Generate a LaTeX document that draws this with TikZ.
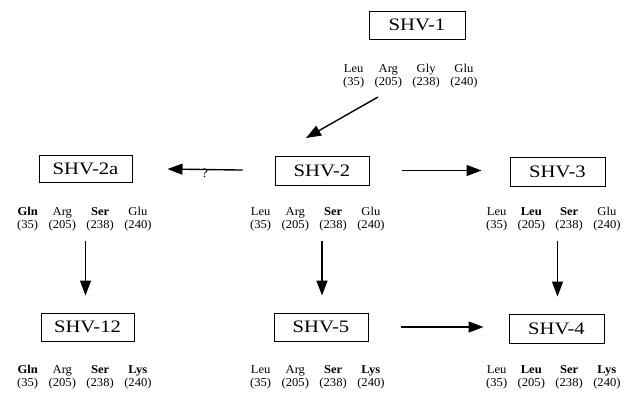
\documentclass[tikz,border=0pt]{standalone}
\usepackage{fontspec}
\setmainfont{Liberation Serif}
\newfontfamily\boxfont[FakeStretch=1.18]{Liberation Serif}
\newfontfamily\labfont[FakeStretch=1.05]{Liberation Serif}
\usetikzlibrary{arrows.meta}
\tikzset{
  shvbox/.style={draw, line width=1pt, inner sep=0pt, font=\boxfont\fontsize{17.5}{19}\selectfont},
  labgrp/.style={inner sep=0pt, anchor=north west, font=\labfont\fontsize{12}{13.5}\selectfont},
  conn/.style={line width=1.4pt, -{Triangle[length=15pt,width=11pt]}},
}
\newcommand{\grptab}[8]{\begin{tabular}{@{}c@{\hspace{10.5pt}}c@{\hspace{10.5pt}}c@{\hspace{10.5pt}}c@{}}#1&#2&#3&#4\\#5&#6&#7&#8\end{tabular}}
\begin{document}
\begin{tikzpicture}[x=1pt,y=-1pt]
\useasboundingbox (0,0) rectangle (642,392);
% boxes
\node[shvbox, minimum width=96pt, minimum height=28pt] (shv1) at (417,25) {SHV-1};
\node[shvbox, minimum width=93pt, minimum height=27pt] (shv2a) at (85.5,168.5) {SHV-2a};
\node[shvbox, minimum width=94pt, minimum height=29pt] (shv2) at (322,170.5) {SHV-2};
\node[shvbox, minimum width=95pt, minimum height=29pt] (shv3) at (557.5,171.5) {SHV-3};
\node[shvbox, minimum width=93pt, minimum height=28pt] (shv12) at (87.5,327) {SHV-12};
\node[shvbox, minimum width=94pt, minimum height=28pt] (shv5) at (321,327) {SHV-5};
\node[shvbox, minimum width=95pt, minimum height=29pt] (shv4) at (556.5,328.5) {SHV-4};
% label groups
\node[labgrp] (g1) at (343,62.5) {\grptab{Leu}{Arg}{Gly}{Glu}{(35)}{(205)}{(238)}{(240)}};
\node[labgrp] (g2a) at (17,205.5) {\grptab{\textbf{Gln}}{Arg}{\textbf{Ser}}{Glu}{(35)}{(205)}{(238)}{(240)}};
\node[labgrp] (g2) at (250,205.5) {\grptab{Leu}{Arg}{\textbf{Ser}}{Glu}{(35)}{(205)}{(238)}{(240)}};
\node[labgrp] (g3) at (486,205.5) {\grptab{Leu}{\textbf{Leu}}{\textbf{Ser}}{Glu}{(35)}{(205)}{(238)}{(240)}};
\node[labgrp] (g12) at (17,363.5) {\grptab{\textbf{Gln}}{Arg}{\textbf{Ser}}{\textbf{Lys}}{(35)}{(205)}{(238)}{(240)}};
\node[labgrp] (g5) at (250,363.5) {\grptab{Leu}{Arg}{\textbf{Ser}}{\textbf{Lys}}{(35)}{(205)}{(238)}{(240)}};
\node[labgrp] (g4) at (486,363.5) {\grptab{Leu}{\textbf{Leu}}{\textbf{Ser}}{\textbf{Lys}}{(35)}{(205)}{(238)}{(240)}};
% connectors
\coordinate (d1) at (378,97);
\coordinate (d2) at (306,138);
\draw[conn] (d1) -- (d2);
\draw[conn, shorten <=32pt, shorten >=35pt] (shv2.west) -- (shv2a.east);
\node[font=\labfont\fontsize{13}{14}\selectfont, inner sep=0pt] (q) at (205,173.5) {?};
\draw[conn, shorten <=32pt, shorten >=28pt] (shv2.east) -- (shv2.east -| shv3.west);
\draw[conn, shorten <=58pt, shorten >=17pt] (shv2a.south) -- (shv2a.south |- shv12.north);
\draw[conn, shorten <=55pt, shorten >=17pt] (shv2.south) -- (shv2.south |- shv5.north);
\draw[conn, shorten <=54pt, shorten >=17pt] (shv3.south) -- (shv3.south |- shv4.north);
\draw[conn, shorten <=32pt, shorten >=25pt] (shv5.east) -- (shv5.east -| shv4.west);
\end{tikzpicture}
\end{document}
